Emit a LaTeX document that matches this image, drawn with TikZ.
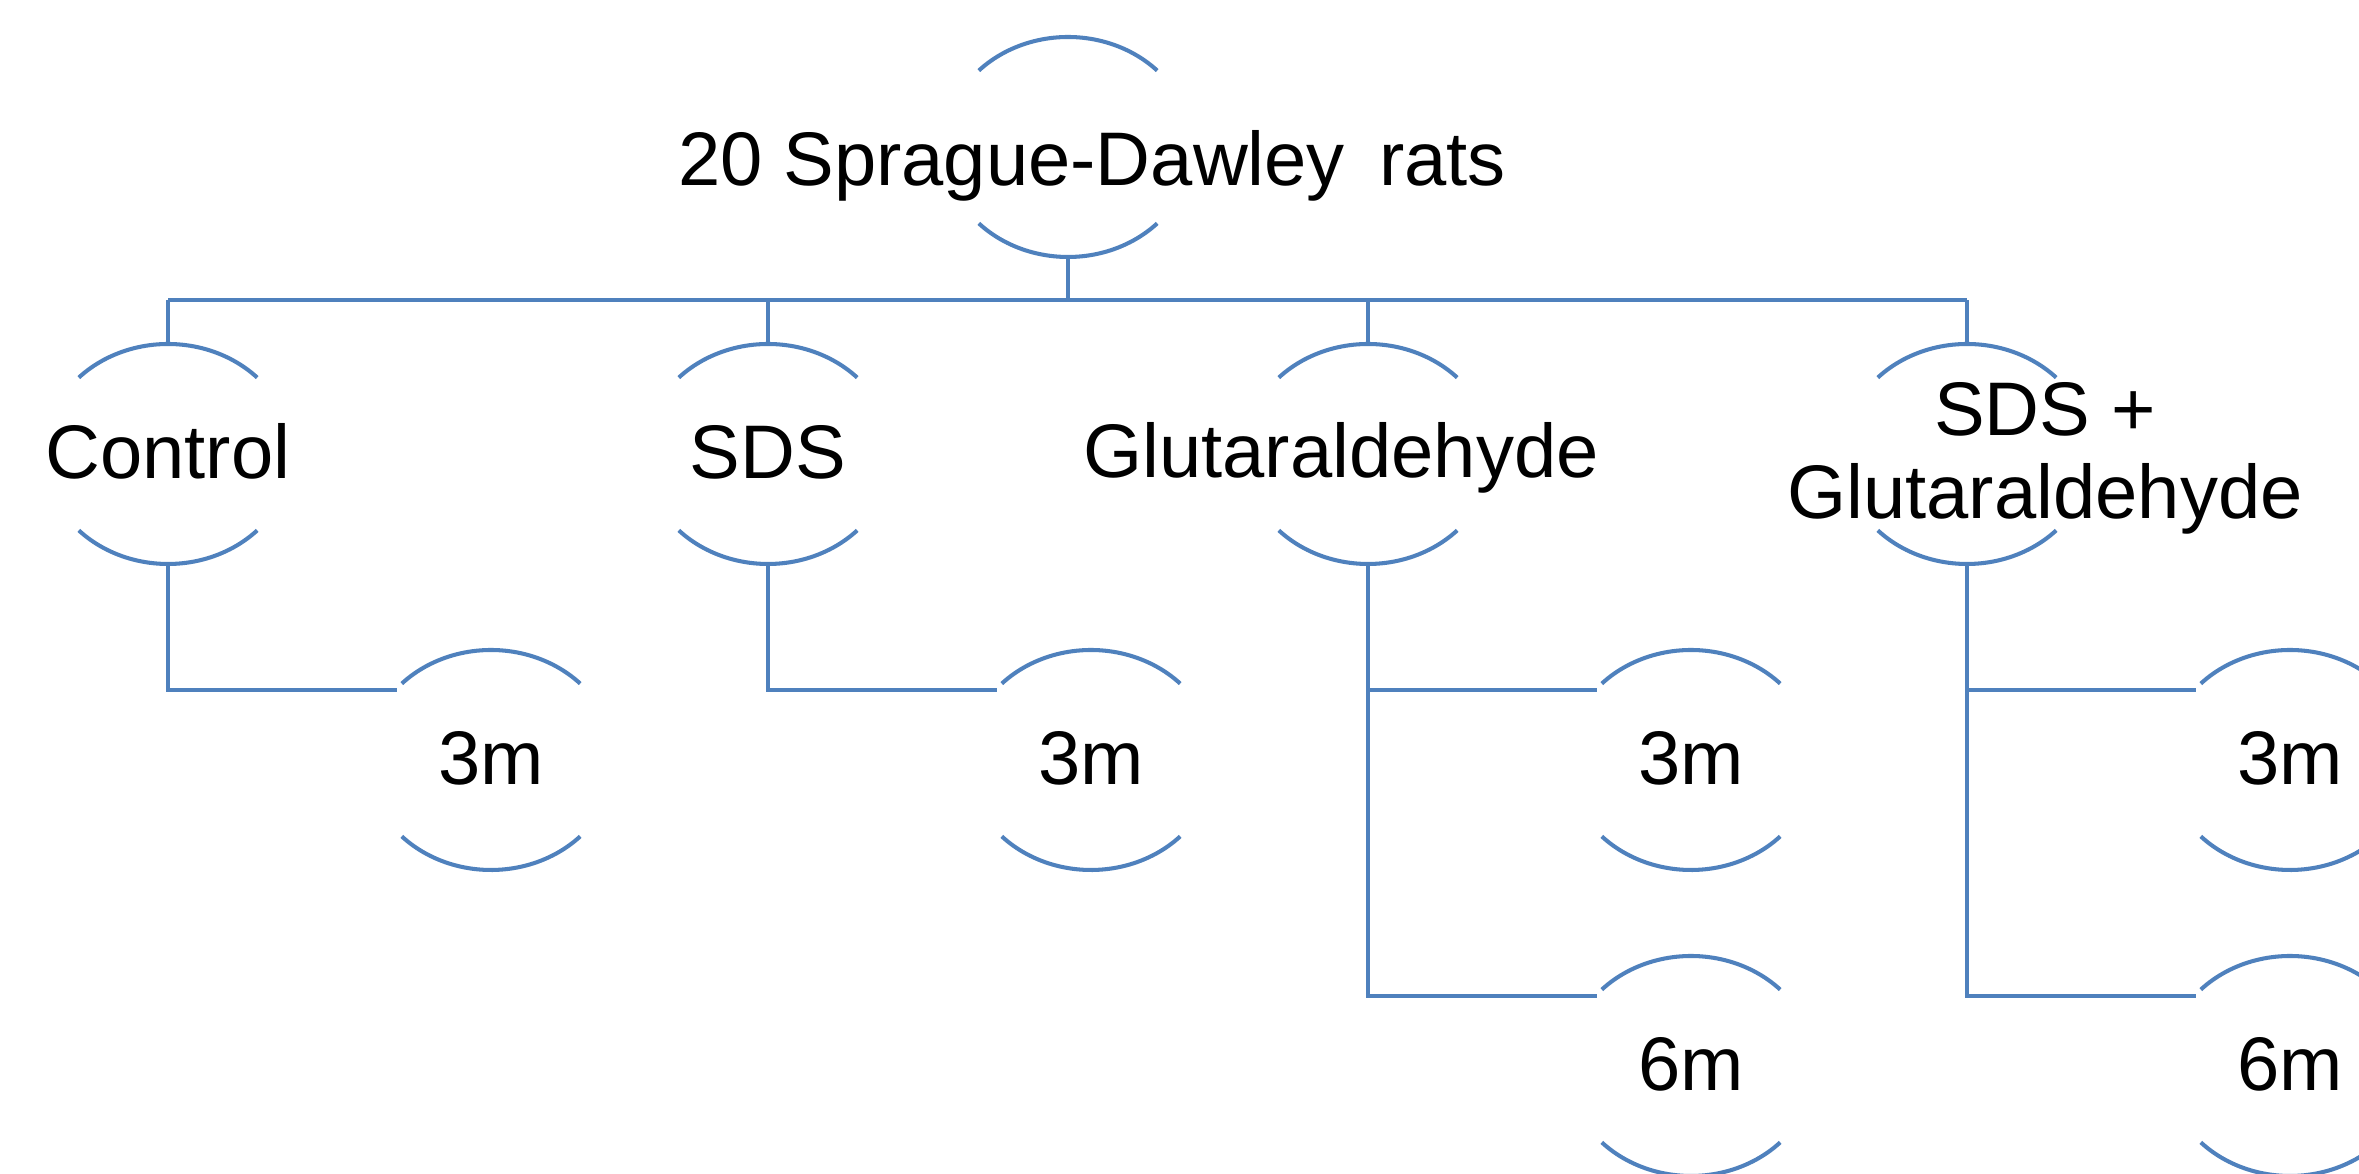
\documentclass[tikz,border=0pt]{standalone}
\usepackage{fontspec}
\setmainfont{Liberation Sans}
\usetikzlibrary{shapes.geometric,calc}
\definecolor{lineblue}{RGB}{79,129,189}
\newcommand\drawhalfarcs[1]{%
  \draw[arcline] ($(#1.center)+(136:124 and 110)$) arc[start angle=136,end angle=44,x radius=124,y radius=110];
  \draw[arcline] ($(#1.center)+(224:124 and 110)$) arc[start angle=224,end angle=316,x radius=124,y radius=110];}
\begin{document}
\begin{tikzpicture}[x=0.01cm,y=0.01cm,
  arcline/.style={draw=lineblue,line width=1.15pt},
  conn/.style={draw=lineblue,line width=1.15pt},
  hnode/.style={ellipse,minimum width=2.48cm,minimum height=2.2cm,inner sep=0pt},
  lbl/.style={font=\fontsize{21.6}{26}\selectfont,inner sep=0pt,anchor=base,text=black}]
\fill[white] (0,0) rectangle (2359,-1174);
\useasboundingbox (0,0) rectangle (2359,-1174);

% circle nodes
\node[hnode] (top)  at (1068,-147) {};
\node[hnode] (ctrl) at (168,-454) {};
\node[hnode] (sds)  at (768,-454) {};
\node[hnode] (glut) at (1368,-454) {};
\node[hnode] (sdsg) at (1967,-454) {};
\node[hnode] (c3)   at (491,-760) {};
\node[hnode] (s3)   at (1091,-760) {};
\node[hnode] (g3)   at (1691,-760) {};
\node[hnode] (g6)   at (1691,-1066) {};
\node[hnode] (b3)   at (2290,-760) {};
\node[hnode] (b6)   at (2290,-1066) {};

\foreach \n in {top,ctrl,sds,glut,sdsg,c3,s3,g3,g6,b3,b6}{\drawhalfarcs{\n}}

% labels
\node[lbl] (topT)  at ($(top.center)+(24,-39)$) {20 Sprague-Dawley\hspace{0.45em}rats};
\node[lbl] (ctrlT) at ($(ctrl.center)+(0,-25)$) {Control};
\node[lbl] (sdsT)  at ($(sds.center)+(0,-25)$) {SDS};
\node[lbl] (glutT) at ($(glut.center)+(-27,-24)$) {Glutaraldehyde};
\node[lbl] (sdsgTa) at ($(sdsg.center)+(78,18)$) {SDS +};
\node[lbl] (sdsgTb) at ($(sdsg.center)+(78,-65)$) {Glutaraldehyde};
\foreach \n in {c3,s3,g3,b3}{\node[lbl] (\n-T) at ($(\n.center)+(0,-25)$) {3m};}
\foreach \n in {g6,b6}{\node[lbl] (\n-T) at ($(\n.center)+(0,-25)$) {6m};}

% connectors
\coordinate (busy) at (0,-300);
\draw[conn] (top.south) -- (top.south |- busy);
\draw[conn] (ctrl.north |- busy) -- (sdsg.north |- busy);
\foreach \n in {ctrl,sds,glut,sdsg}{\draw[conn] (\n.north) -- (\n.north |- busy);}
\foreach \n in {c3,s3,g3,g6,b3,b6}{\coordinate (\n-in) at ($(\n.center)+(-94,70)$);}
\draw[conn] (ctrl.south) |- (c3-in);
\draw[conn] (sds.south) |- (s3-in);
\draw[conn] (glut.south) |- (g6-in);
\draw[conn] (glut.south |- g3-in) -- (g3-in);
\draw[conn] (sdsg.south) |- (b6-in);
\draw[conn] (sdsg.south |- b3-in) -- (b3-in);
\end{tikzpicture}
\end{document}
